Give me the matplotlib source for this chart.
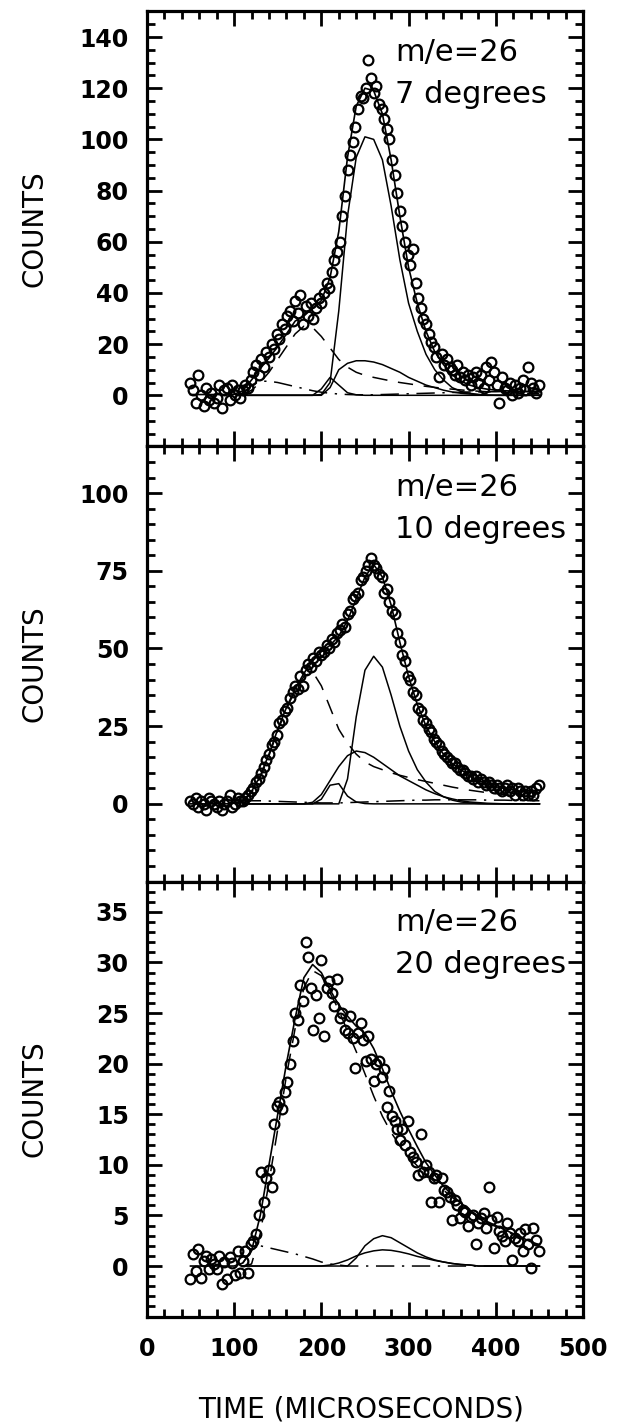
import numpy as np
import matplotlib
matplotlib.use("Agg")
import matplotlib.pyplot as plt
from matplotlib.ticker import MultipleLocator

# time grids (microseconds)
data_t = np.arange(50, 450, 3)      # measured channels, 134 points
fit_t = np.arange(50, 451, 10)      # total fit, 41 points
comp_t = np.arange(110, 451, 10)    # fit components, 35 points

# ---- 7 degrees ----
counts_7 = [5, 2, -3, 8, 0, -4, 3, -2, 1, -3,
            -1, 4, -5, 2, 3, -2, 4, 0, 2, -1,
            2, 4, 3, 6, 9, 12, 8, 14, 11, 17,
            15, 20, 18, 24, 22, 28, 26, 31, 33, 29,
            37, 32, 39, 28, 35, 31, 36, 30, 34, 38,
            36, 40, 44, 42, 48, 53, 56, 60, 70, 78,
            88, 94, 99, 105, 112, 117, 116, 120, 131, 124,
            118, 121, 114, 112, 108, 104, 100, 92, 86, 79,
            72, 66, 60, 55, 51, 57, 44, 38, 34, 30,
            28, 24, 21, 19, 15, 7, 16, 12, 14, 11,
            10, 8, 12, 7, 9, 6, 8, 4, 7, 9,
            5, 8, 3, 11, 6, 13, 9, 4, -3, 7,
            3, 2, 5, 0, 4, 1, 3, 6, 2, 11,
            5, 3, 1, 4]
total_7 = [0.3, 0.3, 0.3, 0.3, 0.3, 0.4, 1.8, 6, 10.5, 14.5, 19, 24, 29, 31,
           34, 37, 46, 64, 93, 113, 120, 119, 110, 92, 70, 50, 36, 25, 17,
           12, 8, 5.5, 4, 3, 2.4, 2, 1.8, 1.6, 1.5, 1.4, 1.3]
dashed_7 = [0.3, 2, 5, 9, 14, 19, 24, 27, 26.5, 23, 18.5, 14, 11, 9, 7.8,
            7, 6.3, 5.6, 5, 4.5, 4, 3.5, 3.1, 2.7, 2.4, 2.1, 1.8, 1.6, 1.4,
            1.2, 1.0, 0.9, 0.8, 0.7, 0.6]
dashdot_7 = [0.5, 4, 5.5, 5.5, 5, 4.2, 3.4, 2.6, 1.8, 1.2, 0.8, 0.5, 0.3,
             0.2, 0.2, 0.2, 0.3, 0.4, 0.5, 0.6, 0.7, 0.8, 0.9, 1.0, 1.1,
             1.2, 1.3, 1.3, 1.4, 1.4, 1.5, 1.5, 1.5, 1.6, 1.6]
narrow_7 = [0, 0, 0, 0, 0, 0, 0, 0, 0, 0.3, 5, 33, 70, 93, 101, 100, 92, 74,
            53, 36, 25, 16, 10, 6, 3, 1.5, 0.8, 0.3, 0, 0, 0, 0, 0, 0, 0]
medium_7 = [0, 0, 0, 0, 0, 0, 0, 0, 0, 0, 3, 10, 12.5, 13.5, 13.5, 13, 12,
            10.5, 9, 7, 5.5, 4, 3, 2, 1.3, 0.8, 0.5, 0.3, 0.1, 0, 0, 0, 0,
            0, 0]
small_7 = [0, 0, 0, 0, 0, 0, 0, 0, 0, 2.5, 7, 4, 1, 0.2, 0, 0, 0, 0, 0, 0,
           0, 0, 0, 0, 0, 0, 0, 0, 0, 0, 0, 0, 0, 0, 0]

# ---- 10 degrees ----
counts_10 = [1, 0, 2, -1, 1, 0, -2, 2, 1, 0,
             -1, 1, -2, 0, 1, 3, -1, 0, 2, 1,
             1, 2, 3, 4, 5, 7, 8, 10, 12, 14,
             16, 19, 20, 22, 26, 27, 30, 31, 34, 36,
             38, 37, 41, 38, 43, 45, 44, 47, 46, 49,
             48, 49, 51, 50, 53, 52, 55, 56, 58, 57,
             61, 62, 66, 67, 68, 72, 73, 75, 77, 79,
             77, 76, 74, 73, 68, 69, 65, 62, 61, 55,
             52, 48, 46, 41, 40, 36, 35, 31, 30, 27,
             26, 24, 23, 21, 20, 19, 17, 16, 15, 14,
             13, 13, 12, 11, 11, 10, 9, 9, 8, 9,
             7, 8, 7, 6, 7, 6, 5, 6, 5, 4,
             5, 6, 4, 5, 3, 5, 4, 3, 4, 3,
             4, 3, 5, 6]
total_10 = [0, 0, 0, 0, 0, 0.2, 1, 4, 9, 16, 24, 31, 37, 42, 46, 49, 51, 54,
            59, 66, 73, 77, 73, 64, 52, 41, 32, 25, 20, 16, 13, 11, 9, 7.5,
            6.5, 5.5, 5, 4.5, 4, 3.7, 3.5]
dashed_10 = [0.8, 3.5, 8.5, 15.5, 23.5, 30.5, 36.5, 41, 42.5, 38, 31, 24,
             19.5, 16, 13.5, 12, 11, 10, 9.2, 8.5, 7.8, 7.2, 6.6, 6, 5.4,
             4.9, 4.4, 4, 3.6, 3.3, 3, 2.7, 2.5, 2.3, 2.1]
dashdot_10 = [0.5, 1, 1, 0.9, 0.8, 0.7, 0.6, 0.5, 0.4, 0.3, 0.3, 0.3, 0.4,
              0.5, 0.6, 0.7, 0.8, 0.9, 1, 1.1, 1.2, 1.2, 1.3, 1.3, 1.3, 1.3,
              1.3, 1.3, 1.2, 1.2, 1.2, 1.1, 1.1, 1, 1]
narrow_10 = [0, 0, 0, 0, 0, 0, 0, 0, 0, 0, 0, 0, 8, 28, 43, 47.5, 44, 35, 25,
             17, 11, 7, 4, 2.3, 1.2, 0.6, 0.3, 0.1, 0, 0, 0, 0, 0, 0, 0]
medium_10 = [0, 0, 0, 0, 0, 0, 0, 0, 0.5, 3, 7.5, 12, 15.5, 17, 16.5, 15,
             13, 11, 9, 7.5, 6, 4.5, 3.3, 2.3, 1.6, 1, 0.6, 0.4, 0.2, 0.1,
             0, 0, 0, 0, 0]
small_10 = [0, 0, 0, 0, 0, 0, 0, 0, 0, 1.5, 6, 6.5, 2.5, 0.6, 0.1, 0, 0, 0,
            0, 0, 0, 0, 0, 0, 0, 0, 0, 0, 0, 0, 0, 0, 0, 0, 0]

# ---- 20 degrees ----
counts_20 = [-1.3, 1.2, -0.5, 1.7, -1.2, 0.5, 1.0, -0.3, 0.7, 0.2,
             -0.3, 1.0, -1.8, 0.4, -1.3, 0.9, 0.3, -0.9, 1.5, -0.7,
             0.5, 1.5, -0.7, 2.2, 2.5, 3.2, 5.0, 9.3, 6.3, 8.7,
             9.5, 7.8, 14.0, 15.8, 16.2, 15.5, 17.2, 18.2, 20.0, 22.2,
             25.0, 24.3, 27.8, 26.2, 32.0, 30.5, 27.5, 23.3, 26.8, 24.5,
             30.2, 22.7, 27.5, 28.2, 27.0, 25.7, 28.4, 24.5, 25.0, 23.3,
             23.0, 24.7, 22.5, 19.6, 23.0, 24.0, 22.3, 20.3, 22.7, 20.5,
             18.3, 20.0, 20.3, 18.7, 19.5, 15.7, 17.3, 14.8, 14.3, 13.5,
             12.5, 13.5, 12.0, 14.3, 11.3, 10.8, 10.3, 9.0, 13.0, 9.3,
             10.0, 9.3, 6.3, 8.7, 9.0, 6.3, 8.7, 7.5, 7.3, 6.8,
             4.5, 6.5, 6.0, 4.7, 5.5, 5.3, 4.0, 4.8, 5.0, 2.2,
             4.3, 4.7, 5.2, 3.8, 7.8, 4.5, 1.8, 4.8, 3.5, 3.0,
             2.5, 4.3, 3.3, 0.6, 2.8, 2.5, 3.3, 1.5, 3.7, 2.2,
             -0.2, 3.8, 2.6, 1.5]
total_20 = [0, 0, 0, 0, 0, 0, 0.3, 1.5, 5, 10, 15, 20, 24.5, 28.5, 29.8, 29,
            27.3, 25.8, 24.7, 23.7, 23, 21.5, 19.5, 17.3, 15.3, 13.5, 11.8,
            10.2, 9, 7.9, 7, 6.2, 5.5, 4.9, 4.4, 4, 3.6, 3.2, 2.8, 2.4, 2.1]
dashed_20 = [0, 0.2, 3.2, 8.3, 13.5, 18.8, 23.5, 27.5, 29.2, 28.7, 27, 25.3,
             23.2, 21.2, 19, 16.8, 14.8, 13.2, 11.9, 10.8, 9.9, 9.1, 8.3,
             7.5, 6.8, 6.1, 5.4, 4.8, 4.3, 3.9, 3.5, 3.1, 2.7, 2.3, 2.1]
dashdot_20 = [0.3, 1.6, 2.0, 1.8, 1.6, 1.4, 1.2, 0.95, 0.7, 0.4, 0.2, 0.1,
              0, 0, 0, 0, 0, 0, 0, 0, 0, 0, 0, 0, 0, 0, 0, 0, 0, 0, 0, 0, 0,
              0, 0]
bump_a_20 = [0, 0, 0, 0, 0, 0, 0, 0, 0, 0, 0, 0, 0, 0.8, 2.0, 2.7, 3.0, 2.8,
             2.3, 1.8, 1.3, 0.9, 0.6, 0.4, 0.25, 0.15, 0.1, 0, 0, 0, 0, 0,
             0, 0, 0]
bump_b_20 = [0, 0, 0, 0, 0, 0, 0, 0, 0, 0, 0.1, 0.3, 0.6, 1.0, 1.3, 1.5, 1.6,
             1.55, 1.4, 1.2, 0.95, 0.75, 0.55, 0.4, 0.25, 0.15, 0.1, 0, 0, 0,
             0, 0, 0, 0, 0]

plt.rcParams['font.family'] = ['DejaVu Sans']


def draw_panel(ax, counts, total, dashed, dashdot, solids, ylim, minor,
               yticks, angle):
    ax.plot(fit_t, total, color='black', lw=1.2, zorder=2)
    for comp in solids:
        ax.plot(comp_t, comp, color='black', lw=1.1, zorder=2)
    ax.plot(comp_t, dashed, color='black', lw=1.1, dashes=(10, 7), zorder=2)
    ax.plot(comp_t, dashdot, color='black', lw=1.1,
            dashes=(12, 5, 1.5, 5), zorder=2)
    ax.plot(data_t, counts, linestyle='none', marker='o', ms=7,
            mfc='none', mec='black', mew=1.6, zorder=3)

    ax.set_xlim(0, 500)
    ax.set_ylim(*ylim)
    ax.set_yticks(yticks)
    ax.yaxis.set_minor_locator(MultipleLocator(minor))
    ax.xaxis.set_major_locator(MultipleLocator(100))
    ax.xaxis.set_minor_locator(MultipleLocator(20))
    ax.tick_params(which='both', direction='in', top=True, right=True,
                   width=2.0, labelsize=17)
    ax.tick_params(which='major', length=11)
    ax.tick_params(which='minor', length=6)
    ax.tick_params(axis='y', pad=13)
    ax.tick_params(axis='x', pad=15)
    for spine in ax.spines.values():
        spine.set_linewidth(2.3)

    ax.set_ylabel('COUNTS', fontsize=20)
    ax.yaxis.set_label_coords(-0.225, 0.5)

    ax.text(0.57, 0.905, 'm/e=26', transform=ax.transAxes, fontsize=22,
            va='center', ha='left')
    ax.text(0.57, 0.81, angle, transform=ax.transAxes, fontsize=22,
            va='center', ha='left')


fig, axes = plt.subplots(3, 1, figsize=(6.17, 14.28), dpi=100, sharex=True)
fig.subplots_adjust(left=0.238, right=0.945, top=0.992, bottom=0.078,
                    hspace=0)

draw_panel(axes[0], counts_7, total_7, dashed_7, dashdot_7,
           [narrow_7, medium_7, small_7], (-20, 150), 5,
           range(0, 141, 20), '7 degrees')
draw_panel(axes[1], counts_10, total_10, dashed_10, dashdot_10,
           [narrow_10, medium_10, small_10], (-25, 115), 5,
           range(0, 101, 25), '10 degrees')
draw_panel(axes[2], counts_20, total_20, dashed_20, dashdot_20,
           [bump_a_20, bump_b_20], (-5, 38), 1,
           range(0, 36, 5), '20 degrees')

for ax in axes[:2]:
    ax.tick_params(labelbottom=False)

# heavier tick numbers, as in the printed figure
for ax in axes:
    for lbl in ax.get_xticklabels() + ax.get_yticklabels():
        lbl.set_fontweight('bold')

fig.text(0.585, 0.0077, 'TIME (MICROSECONDS)', ha='center', va='baseline',
         fontsize=20)

fig.savefig('out.png', dpi=100)
